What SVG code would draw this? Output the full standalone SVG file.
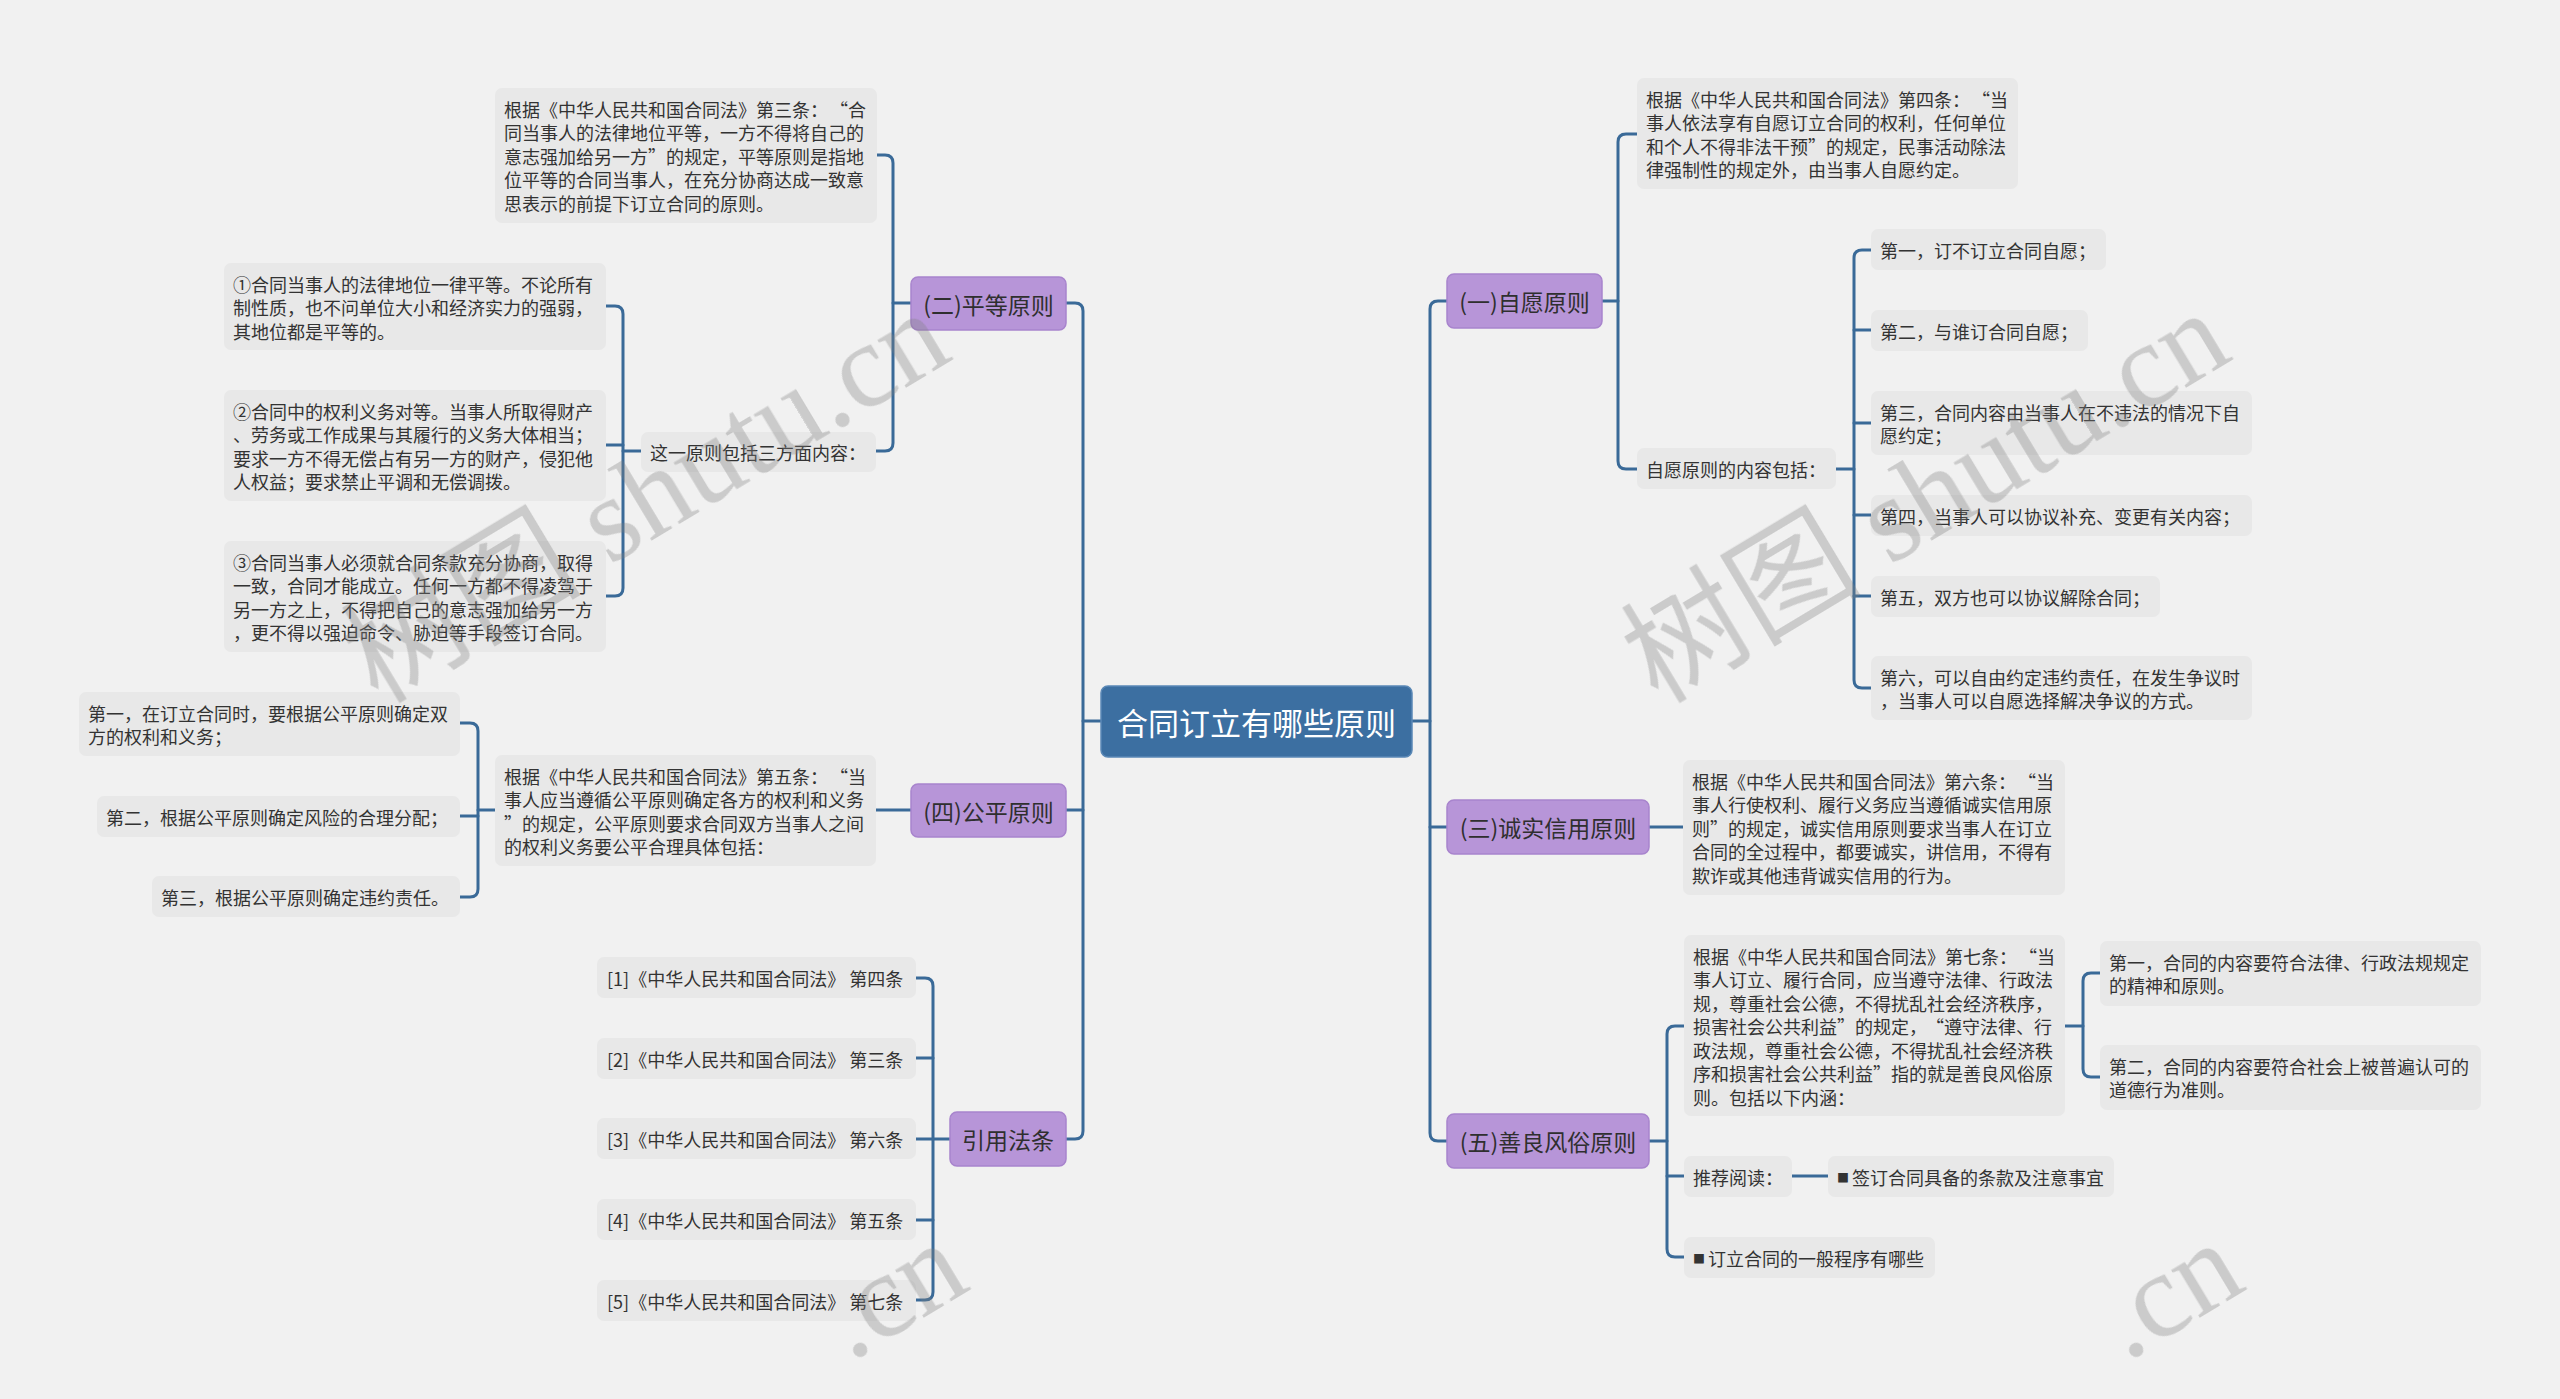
<svg xmlns="http://www.w3.org/2000/svg" width="2560" height="1399" viewBox="0 0 2560 1399">
<style>
.bg{fill:#f1f1f1}
.box{fill:#e8e8e8}
.t{font-family:"Noto Sans CJK SC","Microsoft YaHei",sans-serif;font-size:18px;fill:#333333;dominant-baseline:central}
.sq{font-size:12px}
.main{fill:#b795d8;stroke:#a884cd;stroke-width:1.5}
.mt{font-family:"Noto Sans CJK SC",sans-serif;font-size:23px;fill:#2f2f2f;text-anchor:middle;dominant-baseline:central}
.root{fill:#3c6fa1;stroke:#5a88b6;stroke-width:1.5}
.rt{font-family:"Noto Sans CJK SC",sans-serif;font-size:31px;fill:#ffffff;text-anchor:middle;dominant-baseline:central}
.c path{fill:none;stroke:#3a6a98;stroke-width:3;stroke-linecap:round;stroke-linejoin:round}
.wm{font-family:"Liberation Serif","Noto Sans CJK SC",serif;font-size:120px;fill:#7f7f7f}
</style>
<rect class="bg" x="0" y="0" width="2560" height="1399"/>

<g id="connectors" class="c">
<path d="M1101 721 H1083"/>
<path d="M1066 303 H1075 Q1083 303 1083 311 V1131 Q1083 1139 1075 1139 H1066"/>
<path d="M1083 810 H1066"/>
<path d="M911 303 H893"/>
<path d="M877 155 H885 Q893 155 893 163 V443 Q893 451 885 451 H876"/>
<path d="M641 451 H623"/>
<path d="M606 306 H615 Q623 306 623 314 V588 Q623 596 615 596 H606"/>
<path d="M623 445 H606"/>
<path d="M911 810 H875"/>
<path d="M495 810 H478"/>
<path d="M460 723 H470 Q478 723 478 731 V889 Q478 897 470 897 H460"/>
<path d="M478 816 H460"/>
<path d="M950 1139 H933"/>
<path d="M916 978 H925 Q933 978 933 986 V1292 Q933 1300 925 1300 H916"/>
<path d="M933 1058 H916"/>
<path d="M933 1139 H916"/>
<path d="M933 1220 H916"/>
<path d="M1412 721 H1430"/>
<path d="M1447 301 H1438 Q1430 301 1430 309 V1133 Q1430 1141 1438 1141 H1447"/>
<path d="M1430 827 H1447"/>
<path d="M1602 301 H1618"/>
<path d="M1637 134 H1626 Q1618 134 1618 142 V461 Q1618 469 1626 469 H1637"/>
<path d="M1836 469 H1854"/>
<path d="M1871 250 H1862 Q1854 250 1854 258 V680 Q1854 688 1862 688 H1871"/>
<path d="M1854 330 H1871"/>
<path d="M1854 423 H1871"/>
<path d="M1854 515 H1871"/>
<path d="M1854 596 H1871"/>
<path d="M1649 827 H1683"/>
<path d="M1649 1141 H1667"/>
<path d="M1684 1026 H1675 Q1667 1026 1667 1034 V1249 Q1667 1257 1675 1257 H1684"/>
<path d="M1667 1176 H1684"/>
<path d="M2065 1026 H2083"/>
<path d="M2100 973 H2091 Q2083 973 2083 981 V1069 Q2083 1077 2091 1077 H2100"/>
<path d="M1792 1176 H1828"/>
</g>

<g id="root">
<rect class="root" x="1101" y="686" width="311" height="71" rx="7"/>
<text class="rt" x="1256.5" y="721.5">合同订立有哪些原则</text>
</g>

<g id="n2">
<rect class="main" x="911" y="277" width="155" height="53" rx="7"/>
<text class="mt" x="988.5" y="303.5">(二)平等原则</text>
</g>
<g id="n2a">
<rect class="box" x="495" y="88" width="382" height="135" rx="7"/>
<text class="t"><tspan x="504" y="108.5">根据《中华人民共和国合同法》第三条：<tspan dx="11">“</tspan>合</tspan><tspan x="504" y="132">同当事人的法律地位平等，一方不得将自己的</tspan><tspan x="504" y="155.5">意志强加给另一方”的规定，平等原则是指地</tspan><tspan x="504" y="179">位平等的合同当事人，在充分协商达成一致意</tspan><tspan x="504" y="202.5">思表示的前提下订立合同的原则。</tspan></text>
</g>
<g id="n2b">
<rect class="box" x="641" y="432" width="235" height="40" rx="7"/>
<text class="t" x="650" y="452">这一原则包括三方面内容：</text>
</g>
<g id="n2b1">
<rect class="box" x="224" y="263" width="382" height="87" rx="7"/>
<text class="t"><tspan x="233" y="283.5">①合同当事人的法律地位一律平等。不论所有</tspan><tspan x="233" y="307">制性质，也不问单位大小和经济实力的强弱，</tspan><tspan x="233" y="330.5">其地位都是平等的。</tspan></text>
</g>
<g id="n2b2">
<rect class="box" x="224" y="390" width="382" height="111" rx="7"/>
<text class="t"><tspan x="233" y="410.5">②合同中的权利义务对等。当事人所取得财产</tspan><tspan x="233" y="434">、劳务或工作成果与其履行的义务大体相当；</tspan><tspan x="233" y="457.5">要求一方不得无偿占有另一方的财产，侵犯他</tspan><tspan x="233" y="481">人权益；要求禁止平调和无偿调拨。</tspan></text>
</g>
<g id="n2b3">
<rect class="box" x="224" y="541" width="382" height="111" rx="7"/>
<text class="t"><tspan x="233" y="561.5">③合同当事人必须就合同条款充分协商，取得</tspan><tspan x="233" y="585">一致，合同才能成立。任何一方都不得凌驾于</tspan><tspan x="233" y="608.5">另一方之上，不得把自己的意志强加给另一方</tspan><tspan x="233" y="632">，更不得以强迫命令、胁迫等手段签订合同。</tspan></text>
</g>

<g id="n4">
<rect class="main" x="911" y="784" width="155" height="53" rx="7"/>
<text class="mt" x="988.5" y="810.5">(四)公平原则</text>
</g>
<g id="n4a">
<rect class="box" x="495" y="755" width="381" height="111" rx="7"/>
<text class="t"><tspan x="504" y="775.5">根据《中华人民共和国合同法》第五条：<tspan dx="11">“</tspan>当</tspan><tspan x="504" y="799">事人应当遵循公平原则确定各方的权利和义务</tspan><tspan x="504" y="822.5">”的规定，公平原则要求合同双方当事人之间</tspan><tspan x="504" y="846">的权利义务要公平合理具体包括：</tspan></text>
</g>
<g id="n4a1">
<rect class="box" x="79" y="692" width="381" height="64" rx="7"/>
<text class="t"><tspan x="88" y="712.5">第一，在订立合同时，要根据公平原则确定双</tspan><tspan x="88" y="736">方的权利和义务；</tspan></text>
</g>
<g id="n4a2">
<rect class="box" x="97" y="796" width="363" height="41" rx="7"/>
<text class="t" x="106" y="816.5">第二，根据公平原则确定风险的合理分配；</text>
</g>
<g id="n4a3">
<rect class="box" x="152" y="876" width="308" height="41" rx="7"/>
<text class="t" x="161" y="896.5">第三，根据公平原则确定违约责任。</text>
</g>

<g id="n6">
<rect class="main" x="950" y="1112" width="116" height="54" rx="7"/>
<text class="mt" x="1008" y="1139">引用法条</text>
</g>
<g id="n6a">
<rect class="box" x="597" y="957" width="319" height="41" rx="7"/>
<text class="t" x="607" y="977.5">[1]《中华人民共和国合同法》 第四条</text>
</g>
<g id="n6b">
<rect class="box" x="597" y="1038" width="319" height="41" rx="7"/>
<text class="t" x="607" y="1058.5">[2]《中华人民共和国合同法》 第三条</text>
</g>
<g id="n6c">
<rect class="box" x="597" y="1118" width="319" height="41" rx="7"/>
<text class="t" x="607" y="1138.5">[3]《中华人民共和国合同法》 第六条</text>
</g>
<g id="n6d">
<rect class="box" x="597" y="1199" width="319" height="41" rx="7"/>
<text class="t" x="607" y="1219.5">[4]《中华人民共和国合同法》 第五条</text>
</g>
<g id="n6e">
<rect class="box" x="597" y="1280" width="319" height="41" rx="7"/>
<text class="t" x="607" y="1300.5">[5]《中华人民共和国合同法》 第七条</text>
</g>

<g id="n1">
<rect class="main" x="1447" y="274" width="155" height="54" rx="7"/>
<text class="mt" x="1524.5" y="301">(一)自愿原则</text>
</g>
<g id="n1a">
<rect class="box" x="1637" y="78" width="381" height="111" rx="7"/>
<text class="t"><tspan x="1646" y="98.5">根据《中华人民共和国合同法》第四条：<tspan dx="11">“</tspan>当</tspan><tspan x="1646" y="122">事人依法享有自愿订立合同的权利，任何单位</tspan><tspan x="1646" y="145.5">和个人不得非法干预”的规定，民事活动除法</tspan><tspan x="1646" y="169">律强制性的规定外，由当事人自愿约定。</tspan></text>
</g>
<g id="n1b">
<rect class="box" x="1637" y="448" width="199" height="41" rx="7"/>
<text class="t" x="1646" y="468.5">自愿原则的内容包括：</text>
</g>
<g id="n1b1">
<rect class="box" x="1871" y="229" width="235" height="41" rx="7"/>
<text class="t" x="1880" y="249.5">第一，订不订立合同自愿；</text>
</g>
<g id="n1b2">
<rect class="box" x="1871" y="310" width="217" height="41" rx="7"/>
<text class="t" x="1880" y="330.5">第二，与谁订合同自愿；</text>
</g>
<g id="n1b3">
<rect class="box" x="1871" y="391" width="381" height="64" rx="7"/>
<text class="t"><tspan x="1880" y="411.5">第三，合同内容由当事人在不违法的情况下自</tspan><tspan x="1880" y="435">愿约定；</tspan></text>
</g>
<g id="n1b4">
<rect class="box" x="1871" y="495" width="381" height="41" rx="7"/>
<text class="t" x="1880" y="515.5">第四，当事人可以协议补充、变更有关内容；</text>
</g>
<g id="n1b5">
<rect class="box" x="1871" y="576" width="289" height="41" rx="7"/>
<text class="t" x="1880" y="596.5">第五，双方也可以协议解除合同；</text>
</g>
<g id="n1b6">
<rect class="box" x="1871" y="656" width="381" height="64" rx="7"/>
<text class="t"><tspan x="1880" y="676.5">第六，可以自由约定违约责任，在发生争议时</tspan><tspan x="1880" y="700">，当事人可以自愿选择解决争议的方式。</tspan></text>
</g>

<g id="n3">
<rect class="main" x="1447" y="800" width="202" height="54" rx="7"/>
<text class="mt" x="1548" y="827">(三)诚实信用原则</text>
</g>
<g id="n3a">
<rect class="box" x="1683" y="760" width="382" height="135" rx="7"/>
<text class="t"><tspan x="1692" y="780.5">根据《中华人民共和国合同法》第六条：<tspan dx="11">“</tspan>当</tspan><tspan x="1692" y="804">事人行使权利、履行义务应当遵循诚实信用原</tspan><tspan x="1692" y="827.5">则”的规定，诚实信用原则要求当事人在订立</tspan><tspan x="1692" y="851">合同的全过程中，都要诚实，讲信用，不得有</tspan><tspan x="1692" y="874.5">欺诈或其他违背诚实信用的行为。</tspan></text>
</g>

<g id="n5">
<rect class="main" x="1447" y="1114" width="202" height="54" rx="7"/>
<text class="mt" x="1548" y="1141">(五)善良风俗原则</text>
</g>
<g id="n5a">
<rect class="box" x="1684" y="935" width="381" height="181" rx="7"/>
<text class="t"><tspan x="1693" y="955.5">根据《中华人民共和国合同法》第七条：<tspan dx="11">“</tspan>当</tspan><tspan x="1693" y="979">事人订立、履行合同，应当遵守法律、行政法</tspan><tspan x="1693" y="1002.5">规，尊重社会公德，不得扰乱社会经济秩序，</tspan><tspan x="1693" y="1026">损害社会公共利益”的规定，<tspan dx="8">“</tspan>遵守法律、行</tspan><tspan x="1693" y="1049.5">政法规，尊重社会公德，不得扰乱社会经济秩</tspan><tspan x="1693" y="1073">序和损害社会公共利益”指的就是善良风俗原</tspan><tspan x="1693" y="1096.5">则。包括以下内涵：</tspan></text>
</g>
<g id="n5a1">
<rect class="box" x="2100" y="941" width="381" height="65" rx="7"/>
<text class="t"><tspan x="2109" y="961.5">第一，合同的内容要符合法律、行政法规规定</tspan><tspan x="2109" y="985">的精神和原则。</tspan></text>
</g>
<g id="n5a2">
<rect class="box" x="2100" y="1045" width="381" height="65" rx="7"/>
<text class="t"><tspan x="2109" y="1065.5">第二，合同的内容要符合社会上被普遍认可的</tspan><tspan x="2109" y="1089">道德行为准则。</tspan></text>
</g>
<g id="n5b">
<rect class="box" x="1684" y="1156" width="108" height="41" rx="7"/>
<text class="t" x="1693" y="1176.5">推荐阅读：</text>
</g>
<g id="n5b1">
<rect class="box" x="1828" y="1156" width="286" height="41" rx="7"/>
<text class="t" x="1837" y="1176.5"><tspan class="sq">■</tspan><tspan dx="3">签订合同具备的条款及注意事宜</tspan></text>
</g>
<g id="n5c">
<rect class="box" x="1684" y="1237" width="251" height="41" rx="7"/>
<text class="t" x="1693" y="1257.5"><tspan class="sq">■</tspan><tspan dx="3">订立合同的一般程序有哪些</tspan></text>
</g>

<g id="watermark" opacity="0.33">
<text class="wm" transform="translate(378 705) rotate(-31)">树图 shutu.cn</text>
<text class="wm" transform="translate(1658 705) rotate(-31)">树图 shutu.cn</text>
<text class="wm" transform="translate(850 1362) rotate(-31)">.cn</text>
<text class="wm" transform="translate(2126 1362) rotate(-31)">.cn</text>
</g>
</svg>
